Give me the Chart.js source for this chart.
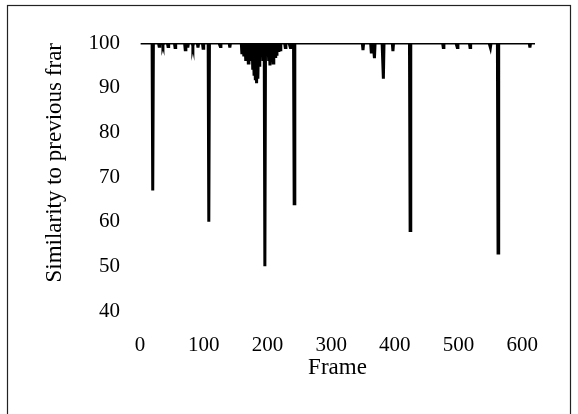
<!DOCTYPE html>
<html>
<head>
<meta charset="utf-8">
<script src="https://cdn.jsdelivr.net/npm/chart.js@4"></script>
<style>
  html, body { margin: 0; padding: 0; background: #fff; }
  #wrap { width: 578px; height: 414px; position: relative; }
</style>
</head>
<body>
<div id="wrap"><canvas id="simChart" width="578" height="414"></canvas></div>
<script>
// Frame range shown and the value the line sits at between changes
const firstFrame = 1;
const lastFrame = 620;
const baseline = 100;

// Frames where similarity drops, and how far
const dipFrames = [
    20, 30, 36, 44, 55, 71, 75, 83, 91, 99,
    108, 126, 141, 160, 163, 166, 168, 170, 172, 175,
    177, 179, 181, 183, 185, 187, 189, 191, 193, 196,
    202, 204, 207, 209, 212, 214, 218, 220, 228, 236, 242,
    350, 363, 368, 382, 397, 424, 476, 498, 518, 550, 562, 612
];
const dipValues = [
    67, 99.3, 99.5, 99.2, 99, 98.5, 99, 99.3, 99, 98.8,
    60, 99.2, 99, 97.5, 97, 96, 98, 95.5, 97, 96,
    94, 93, 92, 91, 92, 95, 97, 98, 96, 50,
    96, 95, 97, 95.5, 97, 97.5, 98, 98.5, 99, 99, 64,
    98.4, 98, 96.6, 92, 98.2, 58, 99, 99, 99, 99, 53, 99
];

const xTickValues = [0, 100, 200, 300, 400, 500, 600];
const yTickValues = [40, 50, 60, 70, 80, 90, 100];

const xTitle = 'Frame';
const yTitle = 'Similarity to previous frar';

// Build the point list: every frame, dipped where listed
function buildPoints() {
    const points = [];
    for (let f = firstFrame; f <= lastFrame; f++) {
        const i = dipFrames.indexOf(f);
        points.push({ x: f, y: i >= 0 ? dipValues[i] : baseline });
    }
    return points;
}

// Thin frame around the whole figure
const borderPlugin = {
    id: 'figureBorder',
    afterDraw(chart) {
        const ctx = chart.ctx;
        ctx.save();
        ctx.strokeStyle = '#222';
        ctx.lineWidth = 1.2;
        ctx.strokeRect(7.5, 5.5, 563, 440);
        ctx.restore();
    }
};

const tickFont = { family: '"Liberation Serif", "Times New Roman", serif', size: 21 };
const titleFont = { family: '"Liberation Serif", "Times New Roman", serif', size: 23 };

new Chart(document.getElementById('simChart'), {
    type: 'line',
    data: {
        datasets: [{
            data: buildPoints(),
            borderColor: '#000',
            borderWidth: 3,
            pointRadius: 0,
            tension: 0,
            fill: false
        }]
    },
    options: {
        responsive: false,
        animation: false,
        layout: { padding: { left: 41, right: 43, top: 43, bottom: 32 } },
        plugins: { legend: { display: false }, tooltip: { enabled: false } },
        scales: {
            x: {
                type: 'linear',
                min: 0,
                max: lastFrame,
                grid: { display: false, drawTicks: false },
                border: { display: false },
                afterBuildTicks: (scale) => {
                    scale.ticks = xTickValues.map(v => ({ value: v }));
                },
                afterFit: (scale) => { scale.height = 71; },
                ticks: { color: '#000', font: tickFont, padding: 22, autoSkip: false, maxRotation: 0 },
                title: { display: true, text: xTitle, color: '#000', font: titleFont, padding: 0 }
            },
            y: {
                min: 40,
                max: 100,
                grid: { display: false, drawTicks: false },
                border: { display: false },
                afterBuildTicks: (scale) => {
                    scale.ticks = yTickValues.map(v => ({ value: v }));
                },
                afterFit: (scale) => { scale.width = 99; },
                ticks: { color: '#000', font: tickFont, padding: 20 },
                title: { display: true, text: yTitle, color: '#000', font: titleFont, padding: 0, align: 'end' }
            }
        }
    },
    plugins: [borderPlugin]
});
</script>
</body>
</html>
